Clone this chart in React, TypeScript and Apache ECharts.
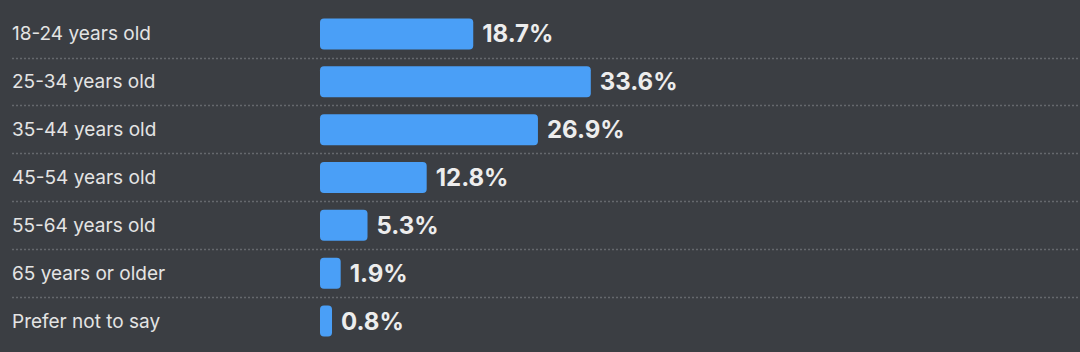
import React, { useEffect, useRef } from "react";
import * as echarts from "echarts";

const categories = [
  "18-24 years old",
  "25-34 years old",
  "35-44 years old",
  "45-54 years old",
  "55-64 years old",
  "65 years or older",
  "Prefer not to say",
];
const values = [18.7, 33.6, 26.9, 12.8, 5.3, 1.9, 0.8];

export default function App() {
  const ref = useRef<HTMLDivElement>(null);
  useEffect(() => {
    if (!ref.current) return;
    const chart = echarts.init(ref.current, undefined, { renderer: "svg" });
    const font = "Inter, 'Open Sans', sans-serif";
    const barH = 31;
    const pad = 5.7;
    chart.setOption({
      animation: false,
      backgroundColor: "#3b3e43",
      grid: [
        { left: 320, width: 315.6, top: 10, bottom: 7 },
        { left: 12, right: 0, top: 10, bottom: 7 },
      ],
      xAxis: [
        { type: "value", min: 0, max: 40, show: false, gridIndex: 0 },
        { type: "value", min: 0, max: 1, show: false, gridIndex: 1 },
      ],
      yAxis: [
        {
          type: "category",
          data: categories,
          inverse: true,
          gridIndex: 0,
          axisLine: { show: false },
          axisTick: { show: false },
          splitLine: { show: false },
          axisLabel: {
            align: "left",
            margin: 308,
            color: "#e4e4e4",
            fontSize: 19,
            fontFamily: font,
          },
        },
        {
          type: "category",
          data: categories,
          inverse: true,
          gridIndex: 1,
          axisLine: { show: false },
          axisTick: { show: false },
          axisLabel: { show: false },
          splitLine: {
            show: true,
            showMinLine: false,
            showMaxLine: false,
            lineStyle: { color: "#65686d", type: [2, 2], width: 1.3 },
          },
        },
      ],
      series: [
        {
          type: "custom",
          xAxisIndex: 0,
          yAxisIndex: 0,
          data: values.map((v, i) => [v, i]),
          encode: { x: 0, y: 1 },
          renderItem: (params: any, api: any) => {
            const v = api.value(0);
            const i = api.value(1);
            const start = api.coord([0, i]);
            const end = api.coord([v, i]);
            const x0 = start[0];
            const x1 = end[0] + pad;
            const cy = end[1];
            return {
              type: "group",
              children: [
                {
                  type: "rect",
                  shape: { x: x0, y: cy - barH / 2, width: x1 - x0, height: barH, r: 4 },
                  style: { fill: "#4a9ff7" },
                },
                {
                  type: "text",
                  x: x1 + 9,
                  y: cy,
                  style: {
                    text: v.toFixed(1) + "%",
                    fill: "#ededed",
                    font: `bold 24px ${font}`,
                    verticalAlign: "middle",
                    align: "left",
                  },
                },
              ],
            };
          },
        },
      ],
    });
    return () => chart.dispose();
  }, []);
  return (
    <div
      ref={ref}
      style={{ position: "fixed", left: 0, top: 0, width: 1080, height: 352 }}
    />
  );
}
